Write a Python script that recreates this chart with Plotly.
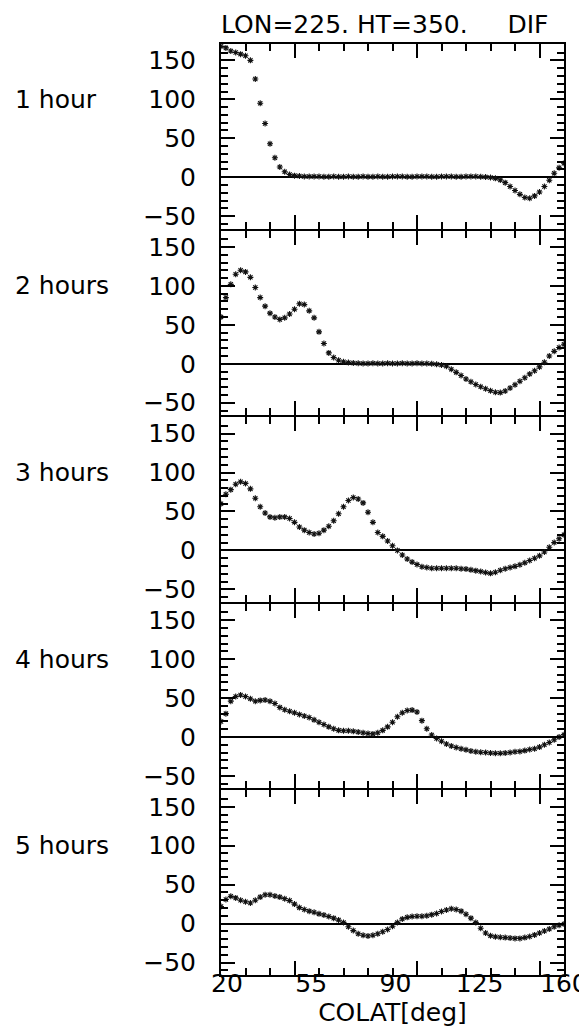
import plotly.graph_objects as go

# ---------------- data ----------------
colat = [20, 22, 24, 26, 28, 30, 32, 34, 36, 38,
         40, 42, 44, 46, 48, 50, 52, 54, 56, 58,
         60, 62, 64, 66, 68, 70, 72, 74, 76, 78,
         80, 82, 84, 86, 88, 90, 92, 94, 96, 98,
         100, 102, 104, 106, 108, 110, 112, 114, 116, 118,
         120, 122, 124, 126, 128, 130, 132, 134, 136, 138,
         140, 142, 144, 146, 148, 150, 152, 154, 156, 158,
         160]

hour_1 = [168, 166, 162, 160, 158, 156, 150, 126, 95, 69,
          43, 25, 13, 7, 3.5, 2, 1.5, 1, 1, 1,
          0.8, 0.5, 0.5, 0.8, 0.5, 0.5, 0.8, 0.5, 0.5, 0.8,
          0.5, 0.5, 0.8, 0.5, 0.5, 0.8, 1, 0.8, 0.5, 0.5,
          0.8, 1, 0.8, 0.5, 0.5, 0.8, 1, 0.8, 0.5, 0.5,
          0.8, 1, 0.8, 0.5, 0.2, -0.5, -1.5, -3.5, -7, -12,
          -17, -22, -26, -27, -24, -19, -12, -4, 5, 12,
          18]

hour_2 = [60, 85, 102, 115, 120, 118, 111, 98, 85, 74,
          65, 60, 57, 59, 64, 70, 77, 76, 68, 59,
          41, 26, 14, 8, 4.5, 2.5, 1.5, 1, 0.8, 0.5,
          0.5, 0.8, 0.5, 0.5, 0.8, 0.5, 0.5, 0.8, 0.5, 0.5,
          0.8, 0.5, 0.3, 0, -0.5, -1.5, -3, -7, -11, -15,
          -19.5, -23, -26.5, -29.5, -32, -34.5, -36.5, -37, -35, -31,
          -27, -22.5, -18, -13, -9, -4, 2, 10, 16, 21,
          25]

hour_3 = [60, 72, 78, 85, 88, 86, 79, 67, 56, 48,
          43, 42, 43, 43, 41, 36, 30, 26, 23, 21,
          22, 26, 31, 38, 47, 56, 64, 68, 66, 61,
          49, 36, 23, 18, 12, 6, 0, -6, -11, -15,
          -18, -21, -22, -23, -23, -23, -23, -23, -23, -23.5,
          -24, -25, -26, -27, -28.5, -29.5, -28, -25.5, -23.5, -22,
          -20.5, -18.5, -16, -13, -10, -7, -2, 4, 10, 15,
          20]

hour_4 = [20, 30, 46, 52, 54, 52, 49, 46, 47, 47.5,
          46, 43, 38, 35, 33, 31, 29, 27, 25, 22,
          19, 16, 13, 10.5, 8.5, 8, 8, 7.5, 6.5, 5.5,
          4.5, 4, 5.5, 8.5, 13, 19, 26, 31, 34, 34.5,
          32, 21, 10.5, 2.5, -2, -5.5, -9, -11.5, -13.5, -15,
          -16.5, -18, -19, -19.5, -20, -20.5, -21, -21, -20.5, -20,
          -19, -18.5, -17.5, -16, -15, -13, -10, -7, -3.5, 0,
          3]

hour_5 = [22, 31, 35, 33, 30, 28, 26.5, 30, 34, 37,
          37, 35.5, 34, 32, 29.5, 25, 20.5, 18, 16, 14.5,
          12.5, 11, 9, 7, 4.5, 1.5, -4, -9, -13, -15,
          -16, -15, -13, -10.5, -7.5, -3.5, 1.5, 6, 8, 9,
          9.5, 9.5, 10, 11.5, 13, 15.5, 17.5, 19, 18, 16,
          12, 7, 1.5, -6, -12, -15.5, -17, -17.5, -18, -18.5,
          -19, -19, -18, -16.5, -14.5, -12, -9.5, -7, -4, -2,
          -0.5]

row_labels = ["1 hour", "2 hours", "3 hours", "4 hours", "5 hours"]
series = [hour_1, hour_2, hour_3, hour_4, hour_5]
x_label_vals = [20, 55, 90, 125, 160]
x_label_text = ["20", "55", "90", "125", "160"]
title_text = "LON=225.\u00a0HT=350.\u00a0\u00a0\u00a0\u00a0\u00a0DIF"
x_title = "COLAT[deg]"

# ---------------- styling ----------------
FONT = "DejaVu Sans"
FS = 25
W, H = 587, 1031
ML, MR, MT, MB = 213, 31, 36, 64
PW, PH = W - ML - MR, H - MT - MB
n = len(series)
LW = 2                      # frame line width
gap = LW / PH               # small gap so neighbouring frame lines coincide
ph = (1 - (n - 1) * gap) / n

fig = go.Figure()

for i, (lab, vals) in enumerate(zip(row_labels, series)):
    k = i + 1
    sfx = "" if k == 1 else str(k)
    fig.add_trace(go.Scatter(
        x=colat, y=vals, mode="markers",
        xaxis="x" + sfx, yaxis="y" + sfx,
        marker=dict(symbol="asterisk-open", size=5, color="#111111",
                    line=dict(color="#111111", width=1.1)),
        showlegend=False, hoverinfo="skip"))

    top = 1 - i * (ph + gap)
    bot = max(0.0, top - ph)
    fig.layout["xaxis" + sfx] = dict(
        domain=[0, 1], anchor="y" + sfx, range=[20, 160],
        showline=True, linecolor="black", linewidth=LW, mirror="ticks",
        ticks="inside", tickcolor="black", tickwidth=1.5, ticklen=14,
        tickmode="linear", tick0=0, dtick=50,
        minor=dict(tickmode="linear", tick0=0, dtick=10, ticks="inside",
                   ticklen=7, tickwidth=1.5, tickcolor="black"),
        showticklabels=False, showgrid=False, zeroline=False,
        automargin=False, fixedrange=True)
    fig.layout["yaxis" + sfx] = dict(
        domain=[bot, top], anchor="x" + sfx, range=[-66, 171],
        showline=True, linecolor="black", linewidth=LW, mirror="ticks",
        ticks="inside", tickcolor="black", tickwidth=1.5, ticklen=14,
        tickmode="linear", tick0=0, dtick=50,
        minor=dict(tickmode="linear", tick0=0, dtick=10, ticks="inside",
                   ticklen=7, tickwidth=1.5, tickcolor="black"),
        tickfont=dict(family=FONT, size=FS, color="black"),
        ticklabelstandoff=18,
        showgrid=False, zeroline=True, zerolinecolor="black", zerolinewidth=2,
        automargin=False, fixedrange=True)

    fig.add_annotation(
        text=lab, xref="paper", x=(5 - ML) / PW, xanchor="left",
        yref="y" + sfx, y=100, yanchor="middle", showarrow=False,
        font=dict(family=FONT, size=FS, color="black"))

# label-only axis for the bottom (labels as placed in the original)
fig.add_trace(go.Scatter(x=x_label_vals, y=[None] * len(x_label_vals),
                         xaxis="x6", yaxis="y5", mode="markers",
                         showlegend=False, hoverinfo="skip"))
fig.layout["xaxis6"] = dict(
    overlaying="x5", anchor="free", position=9 / PH, side="bottom",
    range=[17.5, 160.05], tickmode="array", tickvals=x_label_vals,
    ticktext=x_label_text, ticks="", showline=False, showgrid=False,
    zeroline=False, tickfont=dict(family=FONT, size=FS, color="black"),
    title=dict(text=x_title, font=dict(family=FONT, size=FS, color="black"),
               standoff=6),
    automargin=False, fixedrange=True)

fig.update_layout(
    width=W, height=H,
    margin=dict(l=ML, r=MR, t=MT, b=MB, pad=0),
    paper_bgcolor="white", plot_bgcolor="white",
    title=dict(text=title_text, x=0, xref="paper", xanchor="left",
               y=1 - 16 / H, yref="container", yanchor="middle",
               font=dict(family=FONT, size=FS, color="black")),
    showlegend=False,
)

fig.write_html("out.html")
